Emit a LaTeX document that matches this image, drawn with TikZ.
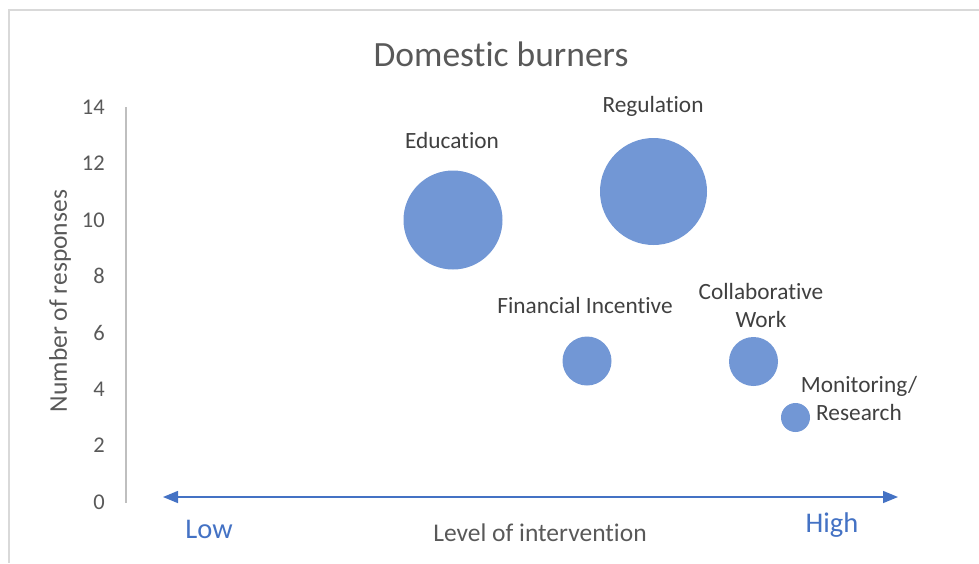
\documentclass[tikz,border=0pt]{standalone}
\usepackage{fontspec}
\setmainfont{Carlito}[Ligatures=NoCommon]
\usetikzlibrary{arrows.meta}

\definecolor{bubblefill}{RGB}{114,151,213}
\definecolor{arrowblue}{RGB}{68,114,196}
\definecolor{txtgray}{RGB}{89,89,89}
\definecolor{lblgray}{RGB}{64,64,64}
\definecolor{framegray}{RGB}{217,217,217}
\definecolor{axisgray}{RGB}{191,191,191}

\begin{document}
\begin{tikzpicture}[x=1pt, y=-1pt,
    bubble/.style={circle, fill=bubblefill, inner sep=0pt, minimum size=#1},
    ticklabel/.style={anchor=east, text=txtgray, inner sep=0pt, font=\fontsize{22.5}{27}\selectfont},
    datalabel/.style={text=lblgray, align=center, inner sep=0pt, font=\fontsize{23.3}{28}\selectfont},
    axistitle/.style={text=txtgray, inner sep=0pt, font=\fontsize{25.5}{30}\selectfont},
    bluelabel/.style={text=arrowblue, inner sep=0pt, font=\fontsize{28.5}{33}\selectfont},
    >={Triangle[length=15pt, width=12pt]}]
    \useasboundingbox (0,0) rectangle (979,563);

    % frame and axis
    \draw[framegray, line width=2pt] (979,10) -- (9,10) -- (9,563);
    \draw[axisgray, line width=1.5pt] (126,107) -- (126,503);

    \node[text=txtgray, font=\fontsize{35.5}{42}\selectfont] (title) at (501,54) {Domestic burners};
    \node[axistitle, rotate=90] (ylabel) at (60,301) {Number of responses};

    \foreach \v in {0,2,...,14}
        \node[ticklabel] (t\v) at (105,{502-28.21*\v}) {\v};

    % bubbles
    \node[bubble=99pt] (edu) at (453,220) {};
    \node[bubble=107pt] (reg) at (653.5,191.5) {};
    \node[bubble=49pt] (fin) at (587,361) {};
    \node[bubble=49pt] (col) at (753.5,361.5) {};
    \node[bubble=29pt] (mon) at (795.5,417.5) {};

    \node[datalabel] (edul) at (452,140) {Education};
    \node[datalabel] (regl) at (653,106) {Regulation};
    \node[datalabel] (finl) at (585,305) {Financial Incentive};
    \node[datalabel] (coll) at (761,305) {Collaborative\\Work};
    \node[datalabel] (monl) at (859,398) {Monitoring/\\Research};

    % level of intervention
    \coordinate (lo) at (163,497);
    \coordinate (hi) at (898,497);
    \draw[arrowblue, line width=1.5pt, <->] (lo) -- (hi);

    \node[bluelabel] (low) at (209,529) {Low};
    \node[bluelabel] (high) at (832,525) {High};
    \node[axistitle] (xlabel) at (540,533) {Level of intervention};
\end{tikzpicture}
\end{document}
